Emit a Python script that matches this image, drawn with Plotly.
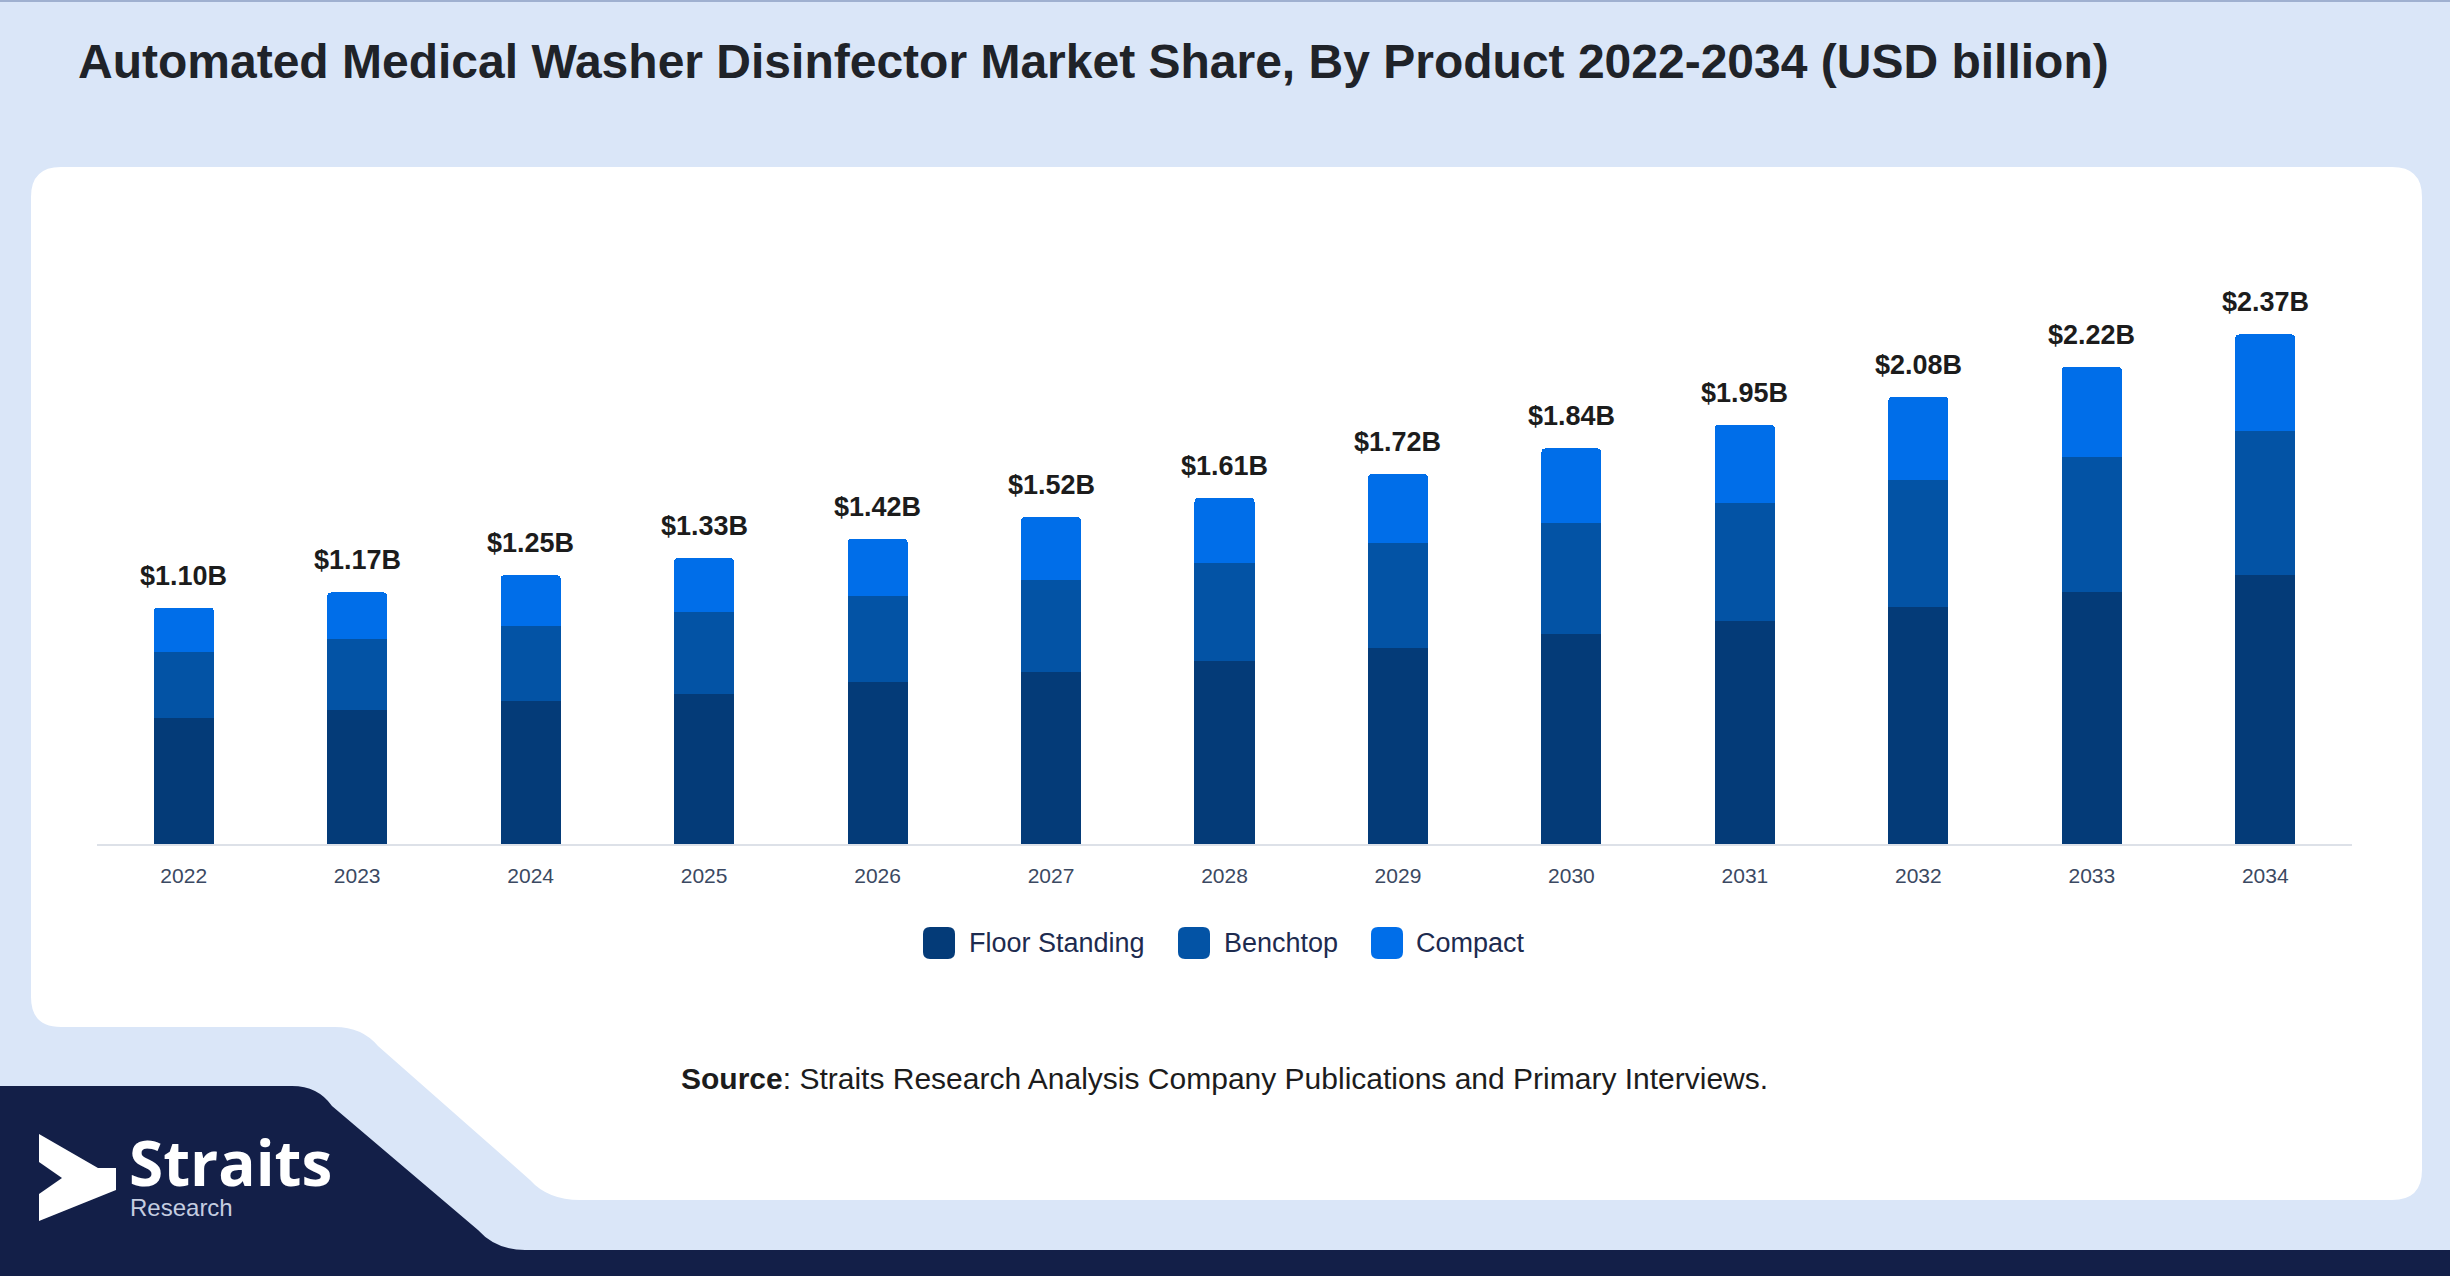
import plotly.graph_objects as go

years = ["2022", "2023", "2024", "2025", "2026", "2027", "2028",
         "2029", "2030", "2031", "2032", "2033", "2034"]
floor_standing = [0.584, 0.623, 0.663, 0.700, 0.752, 0.798, 0.853,
                  0.912, 0.975, 1.036, 1.103, 1.174, 1.249]
benchtop = [0.307, 0.330, 0.349, 0.381, 0.402, 0.429, 0.454,
            0.488, 0.516, 0.548, 0.591, 0.626, 0.673]
compact = [0.209, 0.217, 0.238, 0.249, 0.266, 0.293, 0.303,
           0.320, 0.349, 0.366, 0.386, 0.420, 0.448]
total_labels = ["$1.10B", "$1.17B", "$1.25B", "$1.33B", "$1.42B", "$1.52B", "$1.61B",
                "$1.72B", "$1.84B", "$1.95B", "$2.08B", "$2.22B", "$2.37B"]
series_names = ["Floor Standing", "Benchtop", "Compact"]

floor_color = "#043b78"
bench_color = "#0353a5"
compact_color = "#006ee9"
bg_color = "#dae6f8"
navy = "#131f48"
font_family = "Liberation Sans, Arial, sans-serif"

# page geometry (pixels)
W_PX, H_PX = 2450, 1276
L, R, T, B = 97, 98, 250, 432
plot_w = W_PX - L - R
plot_h = H_PX - T - B
px_per_unit = 215.0
base_y = H_PX - B


def fx(x):
    return (x - L) / plot_w


def fy(y):
    return (base_y - y) / plot_h


def make_path(cmds):
    # cmds: list of (letter, [x, y, x, y ...]) in page pixels
    out = []
    for letter, pts in cmds:
        if letter == "Z":
            out.append("Z")
            continue
        coords = []
        for i in range(0, len(pts), 2):
            coords.append(f"{fx(pts[i]):.5f},{fy(pts[i + 1]):.5f}")
        out.append(letter + " " + " ".join(coords))
    return " ".join(out)


def rounded_rect(x0, y0, x1, y1, r):
    return make_path([
        ("M", [x0, y0 + r]), ("Q", [x0, y0, x0 + r, y0]),
        ("L", [x1 - r, y0]), ("Q", [x1, y0, x1, y0 + r]),
        ("L", [x1, y1 - r]), ("Q", [x1, y1, x1 - r, y1]),
        ("L", [x0 + r, y1]), ("Q", [x0, y1, x0, y1 - r]),
        ("Z", []),
    ])


fig = go.Figure()
for name, vals, col in zip(series_names, [floor_standing, benchtop, compact],
                           [floor_color, bench_color, compact_color]):
    fig.add_trace(go.Bar(x=years, y=vals, name=name, marker=dict(color=col, line=dict(width=0)),
                         showlegend=False))

# total labels above each stack (x given as category index)
totals = [a + b + c for a, b, c in zip(floor_standing, benchtop, compact)]
for i, (tot, lab) in enumerate(zip(totals, total_labels)):
    fig.add_annotation(x=i, y=tot, text=f"<b>{lab}</b>", showarrow=False,
                       yanchor="bottom", yshift=15,
                       font=dict(family=font_family, size=27, color="#1c1c1c"))

shapes = []
# white card with notch at bottom left
card = make_path([
    ("M", [31, 197]), ("Q", [31, 167, 61, 167]),
    ("L", [2392, 167]), ("Q", [2422, 167, 2422, 197]),
    ("L", [2422, 1170]), ("Q", [2422, 1200, 2392, 1200]),
    ("L", [580, 1200]), ("Q", [548, 1200, 530, 1180]),
    ("L", [378, 1046]), ("Q", [362, 1027, 335, 1027]),
    ("L", [61, 1027]), ("Q", [31, 1027, 31, 997]),
    ("Z", []),
])
shapes.append(dict(type="path", xref="paper", yref="paper", path=card,
                   fillcolor="white", line=dict(width=0), layer="below"))
# dark footer band
footer = make_path([
    ("M", [0, 1086]), ("L", [292, 1086]), ("Q", [318, 1086, 332, 1106]),
    ("L", [478, 1230]), ("Q", [496, 1250, 525, 1250]),
    ("L", [2450, 1250]), ("L", [2450, 1276]), ("L", [0, 1276]), ("Z", []),
])
shapes.append(dict(type="path", xref="paper", yref="paper", path=footer,
                   fillcolor=navy, line=dict(width=0), layer="below"))
# top border line
shapes.append(dict(type="line", xref="paper", yref="paper", x0=fx(0), x1=fx(2450),
                   y0=fy(1), y1=fy(1), line=dict(color="#9fb0d0", width=2), layer="below"))
# logo arrow
arrow = make_path([
    ("M", [39, 1134]), ("L", [98, 1168]), ("L", [116, 1168]), ("L", [116, 1190]),
    ("L", [39, 1221]), ("L", [39, 1194]), ("L", [62, 1178]), ("L", [39, 1162]), ("Z", []),
])
shapes.append(dict(type="path", xref="paper", yref="paper", path=arrow,
                   fillcolor="white", line=dict(width=0), layer="above"))

# legend swatches
legend_swatch_x = [939, 1194, 1387]
legend_text_x = [967, 1222, 1414]
legend_y = 943
for sx, col in zip(legend_swatch_x, [floor_color, bench_color, compact_color]):
    shapes.append(dict(type="path", xref="paper", yref="paper",
                       path=rounded_rect(sx - 16, legend_y - 16, sx + 16, legend_y + 16, 7),
                       fillcolor=col, line=dict(width=0), layer="above"))
for tx, name in zip(legend_text_x, series_names):
    fig.add_annotation(xref="paper", yref="paper", x=fx(tx), y=fy(legend_y), text=name,
                       showarrow=False, xanchor="left", yanchor="middle",
                       font=dict(family=font_family, size=27, color="#1d2b4f"))

fig.add_annotation(xref="paper", yref="paper", x=fx(1224), y=fy(1078),
                   text="<b>Source</b>: Straits Research Analysis Company Publications and Primary Interviews.",
                   showarrow=False, xanchor="center", yanchor="middle",
                   font=dict(family=font_family, size=30, color="#1c1c1c"))
fig.add_annotation(xref="paper", yref="paper", x=fx(128), y=fy(1162), text="<b>Straits</b>",
                   showarrow=False, xanchor="left", yanchor="middle", borderpad=0,
                   font=dict(family="Open Sans, Liberation Sans, sans-serif", size=62, color="white"))
fig.add_annotation(xref="paper", yref="paper", x=fx(129), y=fy(1207), text="Research",
                   showarrow=False, xanchor="left", yanchor="middle", borderpad=0,
                   font=dict(family=font_family, size=24, color="#c5cde0"))

fig.update_layout(
    width=W_PX, height=H_PX, autosize=False,
    barmode="stack", bargap=0.654, barcornerradius=4,
    paper_bgcolor=bg_color, plot_bgcolor="rgba(0,0,0,0)",
    margin=dict(l=L, r=R, t=T, b=B),
    shapes=shapes,
    title=dict(text="<b>Automated Medical Washer Disinfector Market Share, By Product 2022-2034 (USD billion)</b>",
               xref="container", yref="container", x=78 / W_PX, xanchor="left",
               y=1 - 61 / H_PX, yanchor="middle",
               font=dict(family=font_family, size=48, color="#1f2329")),
    font=dict(family=font_family),
    showlegend=False,
)
fig.update_xaxes(type="category", categoryorder="array", categoryarray=years,
                 range=[-0.5, len(years) - 0.5],
                 showline=True, linecolor="#dde1e8", linewidth=2,
                 ticks="outside", ticklen=12, tickcolor="rgba(0,0,0,0)",
                 tickfont=dict(size=21, color="#3b4962"), showgrid=False, zeroline=False)
fig.update_yaxes(visible=False, range=[0, plot_h / px_per_unit], showgrid=False, zeroline=False)

fig.write_html("out.html", config={"displayModeBar": False},
               post_script="document.body.style.margin='0';")
